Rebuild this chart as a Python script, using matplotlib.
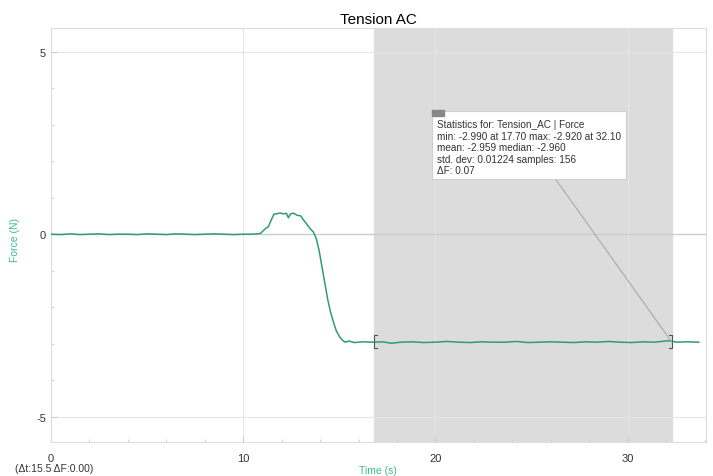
import matplotlib
matplotlib.use("Agg")
import matplotlib.pyplot as plt
from matplotlib.patches import Rectangle

plt.rcParams["font.family"] = ["Liberation Sans", "DejaVu Sans"]
plt.rcParams["axes.unicode_minus"] = False

# force sensor trace (time in s, force in N)
time_s = [0.0, 0.5, 1.0, 1.5, 2.0, 2.5, 3.0, 3.5, 4.0, 4.5, 5.0, 5.5, 6.0, 6.5,
          7.0, 7.5, 8.0, 8.5, 9.0, 9.5, 10.0, 10.5, 10.9, 11.05, 11.2, 11.3,
          11.45, 11.6, 11.75, 11.9, 12.1, 12.25, 12.35, 12.45, 12.6, 12.8, 13.0,
          13.15, 13.3, 13.5, 13.65, 13.8, 13.95, 14.1, 14.25, 14.4, 14.55, 14.7,
          14.85, 15.0, 15.15, 15.3, 15.5, 15.8, 16.2, 16.8, 17.3, 17.7, 18.2,
          18.8, 19.4, 20.0, 20.6, 21.2, 21.8, 22.4, 23.0, 23.6, 24.2, 24.8, 25.4,
          26.0, 26.6, 27.2, 27.8, 28.4, 29.0, 29.6, 30.2, 30.8, 31.4, 32.1, 32.6,
          33.1, 33.7]
force_n = [0.0, -0.01, 0.01, -0.01, 0.0, 0.01, -0.01, 0.0, 0.0, -0.01, 0.01,
           0.0, -0.01, 0.01, 0.0, -0.01, 0.0, 0.01, 0.0, -0.01, 0.0, 0.0, 0.02,
           0.1, 0.17, 0.2, 0.38, 0.55, 0.56, 0.58, 0.56, 0.57, 0.45, 0.55, 0.58,
           0.52, 0.5, 0.38, 0.28, 0.14, 0.06, -0.12, -0.45, -0.9, -1.35, -1.8,
           -2.15, -2.42, -2.66, -2.8, -2.9, -2.96, -2.93, -2.97, -2.95, -2.96,
           -2.95, -2.99, -2.96, -2.95, -2.97, -2.96, -2.94, -2.96, -2.97, -2.95,
           -2.96, -2.96, -2.94, -2.97, -2.96, -2.95, -2.96, -2.97, -2.95, -2.96,
           -2.94, -2.96, -2.97, -2.95, -2.96, -2.92, -2.96, -2.95, -2.96]

sel_start, sel_end = 16.8, 32.3
mean_f = -2.96
stats_lines = [
    "Statistics for: Tension_AC | Force",
    "min: -2.990 at 17.70 max: -2.920 at 32.10",
    "mean: -2.959 median: -2.960",
    "std. dev: 0.01224 samples: 156",
    "\u0394F: 0.07",
]

line_col = "#2e9c7a"
label_col = "#3dbb8c"
grid_col = "#e6e6e6"

fig = plt.figure(figsize=(7.13, 4.77), dpi=100)
ax = fig.add_axes([0.0715, 0.071, 0.918, 0.868])

ax.axvspan(sel_start, sel_end, color="#dcdcdc", zorder=0)
ax.axhline(0, color="#cccccc", lw=0.9, zorder=1)
ax.plot(time_s, force_n, color=line_col, lw=1.1, zorder=3)

# selection brackets
cap = 0.15
for x0, d in ((sel_start, 1), (sel_end, -1)):
    ax.plot([x0 + d * cap, x0, x0, x0 + d * cap],
            [mean_f + 0.2, mean_f + 0.2, mean_f - 0.17, mean_f - 0.17],
            color="#555555", lw=0.8, zorder=4)

ax.set_xlim(0, 34.05)
ax.set_ylim(-5.7, 5.65)
ax.set_xticks([0, 10, 20, 30])
ax.set_xticks(range(0, 35, 2), minor=True)
ax.set_yticks([-5, 0, 5])
ax.set_yticks(range(-5, 6), minor=True)
ax.grid(True, which="major", color=grid_col, lw=0.8, zorder=0)
ax.set_axisbelow(True)
ax.tick_params(which="both", direction="in", colors="#cccccc",
               labelcolor="#333333", labelsize=8)
ax.tick_params(which="major", length=4)
ax.tick_params(which="minor", length=2)
ax.tick_params(axis="x", pad=8)
for sp in ax.spines.values():
    sp.set_color("#dddddd")
    sp.set_linewidth(0.8)

ax.set_title("Tension AC", fontsize=11, pad=4)
ax.set_xlabel("Time (s)", color=label_col, fontsize=7.5, labelpad=1)
ax.set_ylabel("Force (N)", color=label_col, fontsize=7.5)
ax.yaxis.set_label_coords(-0.047, 0.49)

# statistics box with leader line to the end of the selection
box = Rectangle((19.84, 1.51), 10.06, 1.86, fc="white", ec="#d0d0d0",
                lw=0.8, zorder=6)
ax.add_patch(box)
ax.add_patch(Rectangle((19.8, 3.23), 0.65, 0.17, color="#888888", zorder=7))
ax.text(20.1, 3.15, "\n".join(stats_lines), ha="left", va="top",
        fontsize=7.2, color="#333333", linespacing=1.18, zorder=7)
ax.plot([26.25, sel_end], [1.51, mean_f], color="#aaaaaa", lw=0.8, zorder=5)

fig.text(0.021, 0.01, "(\u0394t:15.5 \u0394F:0.00)", fontsize=7.5,
         color="#333333")

fig.savefig("out.png", dpi=100)
